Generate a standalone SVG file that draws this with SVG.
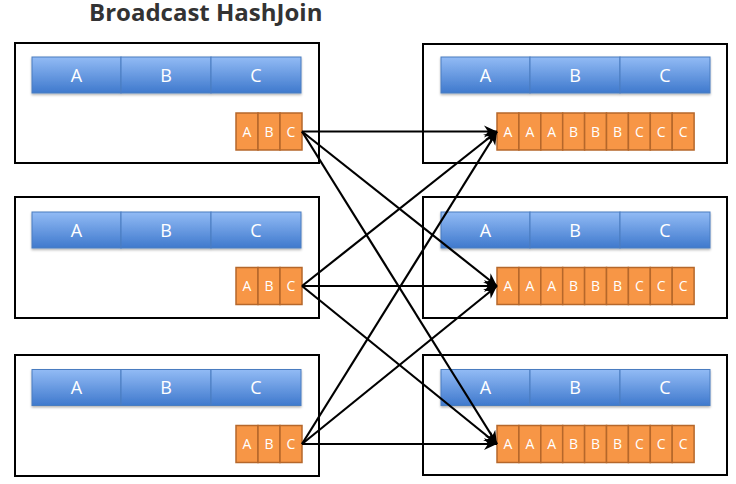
<svg xmlns="http://www.w3.org/2000/svg" width="736" height="484" viewBox="0 0 736 484">
<style>
.box{fill:#fff;stroke:#000;stroke-width:2}
.bl{fill:url(#bg);stroke:#4a7cc0;stroke-width:1}
.or{fill:#f79646;stroke:#b5672b;stroke-width:1.5}
.bt{font-family:"Open Sans","Liberation Sans",sans-serif;font-size:18px;fill:#fff;text-anchor:middle}
.ot{font-family:"Open Sans","Liberation Sans",sans-serif;font-size:14px;fill:#fff;text-anchor:middle}
.title{font-family:"Open Sans","Liberation Sans",sans-serif;font-size:24px;font-weight:bold;fill:#333}
.c{stroke:#000;stroke-width:2.2;fill:none;marker-end:url(#ah)}
</style>
<defs>
<linearGradient id="bg" x1="0" y1="0" x2="0" y2="1">
<stop offset="0" stop-color="#92bbf5"/>
<stop offset="1" stop-color="#3f79cd"/>
</linearGradient>
<filter id="sh" x="-5%" y="-20%" width="110%" height="150%">
<feDropShadow dx="0" dy="1.5" stdDeviation="1" flood-color="#000" flood-opacity="0.3"/>
</filter>
<marker id="ah" markerWidth="14" markerHeight="14" viewBox="0 0 14 14" refX="13" refY="7" orient="auto" markerUnits="userSpaceOnUse">
<path d="M0,1 L13,7 L0,13 L4,7 Z" fill="#000"/>
</marker>
<g id="blue">
<g filter="url(#sh)">
<rect class="bl" x="0" y="0" width="89" height="36"/>
<rect class="bl" x="89" y="0" width="90" height="36"/>
<rect class="bl" x="179" y="0" width="90" height="36"/>
</g>
<text class="bt" x="44.5" y="24.5">A</text>
<text class="bt" x="134" y="24.5">B</text>
<text class="bt" x="224" y="24.5">C</text>
</g>
<g id="small">
<rect class="or" x="0" y="0" width="22" height="37"/>
<rect class="or" x="22" y="0" width="22" height="37"/>
<rect class="or" x="44" y="0" width="22" height="37"/>
<text class="ot" x="11" y="23.5">A</text>
<text class="ot" x="33" y="23.5">B</text>
<text class="ot" x="55" y="23.5">C</text>
</g>
<g id="big">
<rect class="or" x="0" y="0" width="21.9" height="37"/>
<rect class="or" x="21.9" y="0" width="21.9" height="37"/>
<rect class="or" x="43.8" y="0" width="21.9" height="37"/>
<rect class="or" x="65.7" y="0" width="21.9" height="37"/>
<rect class="or" x="87.6" y="0" width="21.9" height="37"/>
<rect class="or" x="109.5" y="0" width="21.9" height="37"/>
<rect class="or" x="131.4" y="0" width="21.9" height="37"/>
<rect class="or" x="153.3" y="0" width="21.9" height="37"/>
<rect class="or" x="175.2" y="0" width="21.9" height="37"/>
<text class="ot" x="11" y="23.5">A</text>
<text class="ot" x="32.9" y="23.5">A</text>
<text class="ot" x="54.8" y="23.5">A</text>
<text class="ot" x="76.6" y="23.5">B</text>
<text class="ot" x="98.5" y="23.5">B</text>
<text class="ot" x="120.4" y="23.5">B</text>
<text class="ot" x="142.3" y="23.5">C</text>
<text class="ot" x="164.2" y="23.5">C</text>
<text class="ot" x="186.1" y="23.5">C</text>
</g>
</defs>
<rect width="736" height="484" fill="#fff"/>
<text class="title" x="89" y="20.5">Broadcast HashJoin</text>

<g id="src1">
<rect class="box" x="15" y="43" width="304" height="120"/>
<use href="#blue" x="32" y="57"/>
<use href="#small" x="236" y="113"/>
</g>
<g id="src2">
<rect class="box" x="15" y="197" width="304" height="121"/>
<use href="#blue" x="32" y="212"/>
<use href="#small" x="236" y="267.5"/>
</g>
<g id="src3">
<rect class="box" x="15" y="355" width="304" height="121"/>
<use href="#blue" x="32" y="369.5"/>
<use href="#small" x="236" y="425.5"/>
</g>
<g id="dst1">
<rect class="box" x="423" y="44" width="304" height="119"/>
<use href="#blue" x="441" y="57"/>
<use href="#big" x="497" y="113"/>
</g>
<g id="dst2">
<rect class="box" x="423" y="197" width="304" height="121"/>
<use href="#blue" x="441" y="212"/>
<use href="#big" x="497" y="267.5"/>
</g>
<g id="dst3">
<rect class="box" x="423" y="355" width="304" height="120"/>
<use href="#blue" x="441" y="369.5"/>
<use href="#big" x="497" y="425.5"/>
</g>

<g id="connectors">
<line class="c" x1="302" y1="131.5" x2="497" y2="131.5"/>
<line class="c" x1="302" y1="131.5" x2="497" y2="286"/>
<line class="c" x1="302" y1="131.5" x2="497" y2="444"/>
<line class="c" x1="302" y1="286" x2="497" y2="131.5"/>
<line class="c" x1="302" y1="286" x2="497" y2="286"/>
<line class="c" x1="302" y1="286" x2="497" y2="444"/>
<line class="c" x1="302" y1="444" x2="497" y2="131.5"/>
<line class="c" x1="302" y1="444" x2="497" y2="286"/>
<line class="c" x1="302" y1="444" x2="497" y2="444"/>
</g>
</svg>
